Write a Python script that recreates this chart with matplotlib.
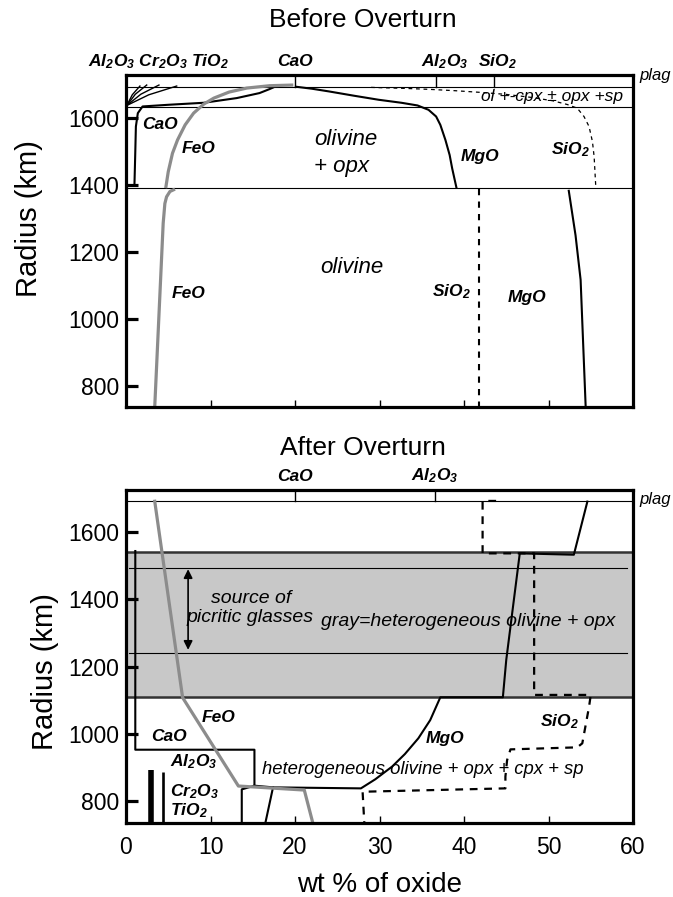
import matplotlib
matplotlib.use("Agg")
import matplotlib.pyplot as plt

plt.rcParams['font.family'] = ['Liberation Sans', 'DejaVu Sans']
plt.rcParams['mathtext.fontset'] = 'custom'
plt.rcParams['mathtext.default'] = 'regular'

# ---------------- data: Before Overturn (x = wt %, y = radius km) ----------------
top_layer_radii = [1694.5, 1634.7, 1392.7]          # plag base, ol+cpx+opx+sp base, olivine+opx base
top_marker_x = [20.0, 36.7, 43.5]                   # CaO, Al2O3, SiO2 marks on top
top_cao_x = [1.0, 1.05, 1.1, 1.17, 1.4, 1.96, 5.0, 9.2, 13.1, 15.8, 17.0, 17.8]
top_cao_y = [1402, 1450, 1500, 1575, 1615, 1635, 1640, 1646, 1660, 1675, 1687, 1696]
fan_end_x = [1.65, 2.45, 3.9, 6.0]
fan_end_y = [1696, 1699, 1699, 1696]
top_feo_up_x = [4.7, 5.0, 5.5, 6.1, 7.0, 8.0, 9.2, 10.4, 12.2, 14.3, 17.0, 19.8]
top_feo_up_y = [1391, 1440, 1495, 1535, 1580, 1615, 1642, 1660, 1678, 1690, 1697, 1699]
top_feo_lo_x = [5.8, 5.2, 4.8, 4.6, 4.4, 3.4]
top_feo_lo_y = [1388, 1381, 1365, 1345, 1286, 737]
top_mgo_up_x = [20.1, 22.0, 24.0, 27.0, 29.9, 32.6, 34.5, 35.8, 36.7, 37.2, 37.8, 38.3, 38.6, 39.1]
top_mgo_up_y = [1694, 1688, 1680, 1667, 1655, 1646, 1638, 1625, 1605, 1580, 1535, 1490, 1450, 1393]
top_sio2_up_x = [29.0, 33.0, 36.0, 39.0, 42.0, 45.0, 48.0, 50.5, 52.2, 53.4, 54.2, 54.8, 55.2, 55.4, 55.6]
top_sio2_up_y = [1692, 1689, 1686, 1682, 1677, 1671, 1662, 1652, 1641, 1630, 1605, 1575, 1530, 1485, 1393]
top_sio2_lo_x = [41.8, 41.8]
top_sio2_lo_y = [1388, 737]
top_mgo_lo_x = [52.4, 53.2, 53.8, 54.4]
top_mgo_lo_y = [1383, 1250, 1117, 737]

# ---------------- data: After Overturn ----------------
bot_plag_radius = 1692.7
bot_band = [1111, 1540]                  # gray heterogeneous olivine + opx
bot_band_inner = [1494, 1240]
bot_marker_x = [20.0, 36.6]              # CaO, Al2O3
bot_cao_x = [1.1, 1.1, 15.2, 15.2, 13.7, 13.7]
bot_cao_y = [1544, 953, 953, 846, 835, 736]
bot_link_x = [15.2, 17.4]
bot_link_y = [846, 841]
bot_feo_x = [3.4, 6.7, 13.3, 21.1, 22.1]
bot_feo_y = [1692, 1108, 845, 833, 736]
bot_mgo_x = [54.6, 53.0, 46.6, 45.0, 44.6, 37.2, 36.0, 34.6, 33.0, 31.5, 29.5, 27.8, 17.4, 16.5]
bot_mgo_y = [1691, 1533, 1537, 1220, 1109, 1109, 1041, 987, 940, 903, 865, 838, 841, 736]
bot_sio2_x = [43.8, 42.2, 42.2, 48.3, 48.3, 55.0, 54.8, 54.0, 53.4, 45.5, 45.1, 44.9, 44.9, 28.0, 28.2]
bot_sio2_y = [1693, 1693, 1537, 1537, 1116, 1116, 1081, 972, 960, 954, 922, 873, 838, 828, 736]
bar_x = [2.9, 4.4]
bar_top = [893, 888]
arrow_x = 7.35
arrow_y = [1490, 1250]

xticks = [0, 10, 20, 30, 40, 50, 60]
yticks = [800, 1000, 1200, 1400, 1600]

GRAY = '#8c8c8c'
BI = dict(fontweight='bold', fontstyle='italic', fontsize=12.5)
IT = dict(fontstyle='italic')

fig = plt.figure(figsize=(6.73, 8.97), dpi=100)
W, H = 673.0, 897.0
ax1 = fig.add_axes([126 / W, 1 - 407 / H, 507 / W, 332 / H])
ax2 = fig.add_axes([126 / W, 1 - 823 / H, 507 / W, 333 / H])

for ax, ylim in ((ax1, (737, 1729)), (ax2, (735, 1725.5))):
    ax.set_xlim(0, 60)
    ax.set_ylim(*ylim)
    for s in ax.spines.values():
        s.set_linewidth(2.3)
    ax.set_xticks(xticks)
    ax.set_yticks(yticks)
    ax.tick_params(axis='y', direction='in', length=8.5, width=2.3, labelsize=16.5, pad=5)
    ax.tick_params(axis='x', direction='in', length=5, width=1.0, labelsize=16.5, pad=9)
ax1.tick_params(axis='x', labelbottom=False)

# ---------- top panel ----------
thin = dict(color='black', lw=0.8)
for r in top_layer_radii:
    ax1.axhline(r, **thin)
for xm in top_marker_x:
    ax1.plot([xm, xm], [top_layer_radii[0], 1729], color='black', lw=1.0)
ax1.plot(top_cao_x, top_cao_y, color='black', lw=1.5)
for ex, ey in zip(fan_end_x, fan_end_y):
    ax1.plot([0.1, ex * 0.45, ex], [1638, 1638 + (ey - 1638) * 0.55, ey], color='black', lw=1.0)
ax1.plot(top_feo_up_x, top_feo_up_y, color=GRAY, lw=2.3, solid_capstyle='butt')
ax1.plot(top_feo_lo_x, top_feo_lo_y, color=GRAY, lw=2.3, solid_capstyle='butt')
ax1.plot(top_mgo_up_x, top_mgo_up_y, color='black', lw=1.5)
ax1.plot(top_mgo_lo_x, top_mgo_lo_y, color='black', lw=1.5)
ax1.plot(top_sio2_up_x, top_sio2_up_y, color='black', lw=0.9, ls=(0, (3, 3)))
ax1.plot(top_sio2_lo_x, top_sio2_lo_y, color='black', lw=1.5, ls=(0, (3, 3)))

tr1 = ax1.get_xaxis_transform()
ax1.text(3.9, 1.04, r'Al$_2$O$_3$ Cr$_2$O$_3$ TiO$_2$', transform=tr1, ha='center', va='center', **BI)
ax1.text(20.0, 1.04, 'CaO', transform=tr1, ha='center', va='center', **BI)
ax1.text(37.7, 1.04, r'Al$_2$O$_3$', transform=tr1, ha='center', va='center', **BI)
ax1.text(43.9, 1.04, r'SiO$_2$', transform=tr1, ha='center', va='center', **BI)
ax1.text(60.8, 1727, 'plag', ha='left', va='center', fontsize=12, **IT)
ax1.text(58.8, 1664, 'ol +-cpx ± opx +sp', ha='right', va='center', fontsize=12.5, **IT)
ax1.text(1.9, 1580, 'CaO', ha='left', va='center', **BI)
ax1.text(8.6, 1510, 'FeO', ha='center', va='center', **BI)
ax1.text(22.3, 1535, 'olivine', ha='left', va='center', fontsize=16, **IT)
ax1.text(22.3, 1455, '+ opx', ha='left', va='center', fontsize=16, **IT)
ax1.text(41.9, 1485, 'MgO', ha='center', va='center', **BI)
ax1.text(52.6, 1505, r'SiO$_2$', ha='center', va='center', **BI)
ax1.text(26.7, 1153, 'olivine', ha='center', va='center', fontsize=16, **IT)
ax1.text(7.4, 1077, 'FeO', ha='center', va='center', **BI)
ax1.text(38.5, 1081, r'SiO$_2$', ha='center', va='center', **BI)
ax1.text(47.5, 1063, 'MgO', ha='center', va='center', **BI)

# ---------- bottom panel ----------
ax2.axhspan(bot_band[0], bot_band[1], color='#c8c8c8', zorder=0, lw=0)
for r in bot_band:
    ax2.axhline(r, color='#333333', lw=1.8)
for r in bot_band_inner:
    ax2.plot([0.3, 59.3], [r, r], **thin)
ax2.axhline(bot_plag_radius, **thin)
for xm in bot_marker_x:
    ax2.plot([xm, xm], [bot_plag_radius, 1725.5], color='black', lw=1.0)
ax2.plot(bot_cao_x, bot_cao_y, color='black', lw=1.5)
ax2.plot(bot_link_x, bot_link_y, color='black', lw=1.5)
ax2.plot(bot_mgo_x, bot_mgo_y, color='black', lw=1.5)
ax2.plot(bot_feo_x, bot_feo_y, color=GRAY, lw=2.3)
ax2.plot(bot_sio2_x, bot_sio2_y, color='black', lw=1.6, ls=(0, (3.5, 3)))
ax2.plot([bar_x[0], bar_x[0]], [735.5, bar_top[0]], color='black', lw=4.0, solid_capstyle='butt')
ax2.plot([bar_x[1], bar_x[1]], [735.5, bar_top[1]], color='black', lw=1.9, solid_capstyle='butt')
ax2.annotate('', xy=(arrow_x, arrow_y[0]), xytext=(arrow_x, arrow_y[1]),
             arrowprops=dict(arrowstyle='<|-|>', lw=1.2, color='black', mutation_scale=13,
                             shrinkA=0, shrinkB=0))

tr2 = ax2.get_xaxis_transform()
ax2.text(20.0, 1.042, 'CaO', transform=tr2, ha='center', va='center', **BI)
ax2.text(36.5, 1.042, r'Al$_2$O$_3$', transform=tr2, ha='center', va='center', **BI)
ax2.text(60.8, 1696, 'plag', ha='left', va='center', fontsize=12, **IT)
ax2.text(14.8, 1404, 'source of', ha='center', va='center', fontsize=14, **IT)
ax2.text(14.7, 1345, 'picritic glasses', ha='center', va='center', fontsize=14, **IT)
ax2.text(40.5, 1334, 'gray=heterogeneous olivine + opx', ha='center', va='center', fontsize=14, **IT)
ax2.text(35.1, 893, 'heterogeneous olivine + opx + cpx + sp', ha='center', va='center', fontsize=13.3, **IT)
ax2.text(3.0, 992, 'CaO', ha='left', va='center', **BI)
ax2.text(11.0, 1049, 'FeO', ha='center', va='center', **BI)
ax2.text(5.2, 917, r'Al$_2$O$_3$', ha='left', va='center', **BI)
ax2.text(5.2, 828, r'Cr$_2$O$_3$', ha='left', va='center', **BI)
ax2.text(5.2, 772, r'TiO$_2$', ha='left', va='center', **BI)
ax2.text(37.8, 987, 'MgO', ha='center', va='center', **BI)
ax2.text(51.3, 1036, r'SiO$_2$', ha='center', va='center', **BI)

# titles and axis labels
fig.text(363 / W, 1 - 20 / H, 'Before Overturn', ha='center', va='center', fontsize=19)
fig.text(363 / W, 1 - 448 / H, 'After Overturn', ha='center', va='center', fontsize=19)
fig.text(29 / W, 1 - 219 / H, 'Radius (km)', rotation=90, ha='center', va='center', fontsize=21)
fig.text(45 / W, 1 - 672 / H, 'Radius (km)', rotation=90, ha='center', va='center', fontsize=21)
fig.text(380 / W, 1 - 885 / H, 'wt % of oxide', ha='center', va='center', fontsize=20)

fig.savefig('out.png', dpi=100)
